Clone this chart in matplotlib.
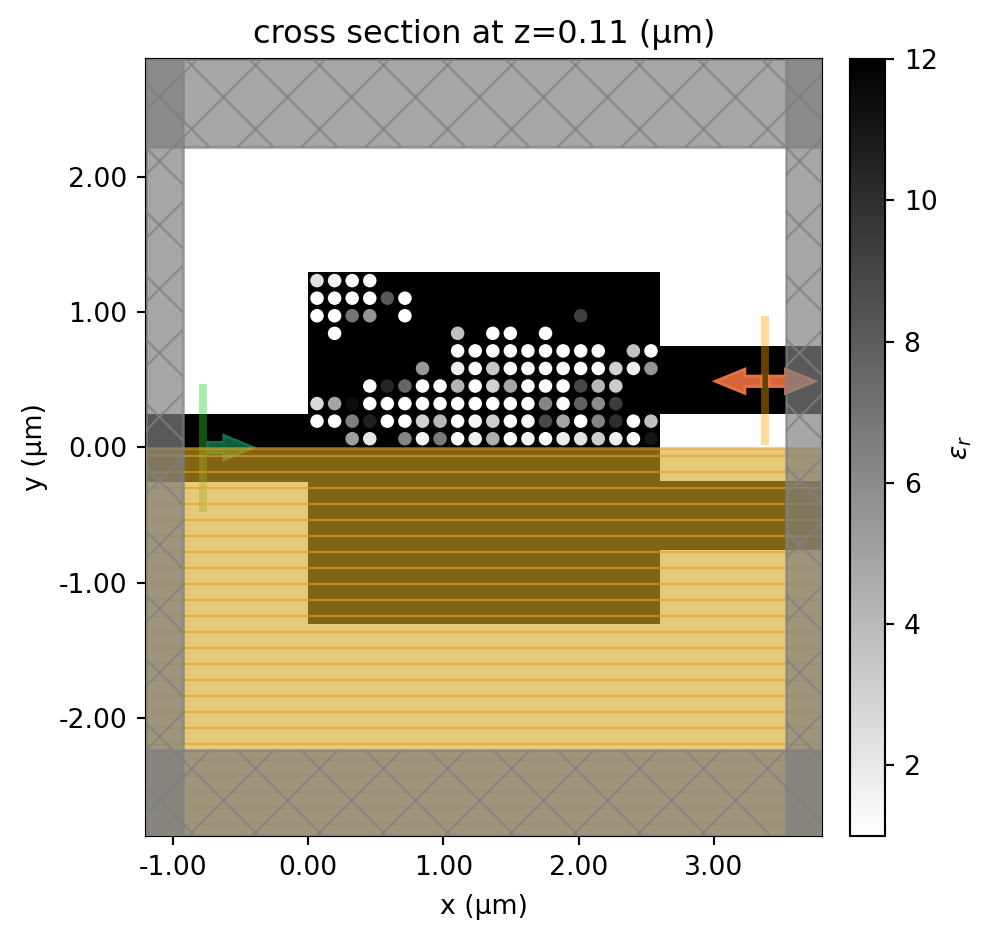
import numpy as np
import matplotlib
matplotlib.use("Agg")
import matplotlib.pyplot as plt
from matplotlib.patches import Rectangle, Circle, FancyArrow
from matplotlib.cm import ScalarMappable
from matplotlib.colors import Normalize
from matplotlib.ticker import FuncFormatter

W, H = 993, 940
DPI = 192

# region limits (um)
xlim = (-1.2, 3.8)
ylim = (-2.875, 2.875)

# waveguide + design region, (x0, y0, width, height)
core_rects = [(-1.2, 0.0, 1.2, 0.25), (0.0, 0.0, 2.6, 1.3), (2.6, 0.25, 1.2, 0.5)]
mirror_rects = [(-1.2, -0.255, 1.2, 0.255), (0.0, -1.305, 2.6, 1.305), (2.6, -0.76, 1.2, 0.51)]

# pixel grid of the design region
hole_x = 0.065 + 0.13 * np.arange(20)
hole_y = 0.065 + 0.13 * np.arange(10)
hole_r = 0.05

# permittivity of each hole, row 0 is the bottom one
hole_eps = np.array([
    [12, 12, 5.2, 2.1, 12, 6.3, 1.5, 6.7, 1, 1.7, 4.5, 1, 1.5, 1, 1.8, 2.3, 3.2, 1.8, 1, 11.1],
    [1, 1, 6.5, 10.6, 1, 1, 3.0, 4.1, 1, 1.4, 3.2, 1, 1.3, 8.9, 4.9, 1, 6.3, 10.0, 1, 3.7],
    [2.6, 4.9, 11.4, 1, 1, 1, 1, 1, 1, 1, 1, 1, 1, 6.2, 1.2, 7.8, 6.0, 9.4, 12, 12],
    [12, 12, 12, 1, 10.4, 7.6, 1, 1, 4.3, 1, 3.0, 4.9, 1, 1, 1, 8.9, 4.1, 3.2, 12, 12],
    [12, 12, 12, 12, 12, 12, 5.4, 12, 1.7, 1, 3.4, 1, 1, 1, 1, 1, 1, 3.0, 1.7, 5.6],
    [12, 12, 12, 12, 12, 12, 12, 12, 1, 1, 1, 1, 1, 1, 1, 1, 1, 12, 3.7, 1],
    [12, 1, 12, 12, 12, 12, 12, 12, 3.7, 12, 1, 1, 12, 1, 12, 12, 12, 12, 12, 12],
    [1, 1, 7.0, 5.6, 12, 1, 12, 12, 12, 12, 12, 12, 12, 12, 12, 9.2, 12, 12, 12, 12],
    [1, 1, 1, 1, 8.2, 1, 12, 12, 12, 12, 12, 12, 12, 12, 12, 12, 12, 12, 12, 12],
    [2.3, 1.6, 1, 1.3, 12, 12, 12, 12, 12, 12, 12, 12, 12, 12, 12, 12, 12, 12, 12, 12],
])

# absorbing layers, (x0, y0, width, height)
pml_rects = [(-1.2, -2.875, 0.272, 5.75), (3.535, -2.875, 0.265, 5.75),
             (-1.2, 2.225, 5.0, 0.65), (-1.2, -2.875, 5.0, 0.635)]

source_x = -0.775
source_y = (-0.475, 0.47)
monitor_x = 3.38
monitor_y = (0.015, 0.97)

cmap = plt.get_cmap("gist_yarg")
norm = Normalize(vmin=1, vmax=12)

fig = plt.figure(figsize=(W / DPI, H / DPI), dpi=DPI)
ax = fig.add_axes([146 / W, 1 - 836 / H, 676 / W, 777 / H])
cax = fig.add_axes([850 / W, 1 - 836 / H, 35 / W, 777 / H])

for x0, y0, w, h in core_rects + mirror_rects:
    ax.add_patch(Rectangle((x0, y0), w, h, fc="k", ec="none", zorder=1))

for j, y in enumerate(hole_y):
    for i, x in enumerate(hole_x):
        ax.add_patch(Circle((x, y), hole_r, fc=cmap(norm(hole_eps[j, i])), ec="none", zorder=2))

# source and monitor planes
ax.plot([source_x, source_x], source_y, color="limegreen", lw=3, alpha=0.4,
        solid_capstyle="butt", zorder=3)
ax.plot([monitor_x, monitor_x], monitor_y, color="orange", lw=3, alpha=0.4,
        solid_capstyle="butt", zorder=3)

# direction arrows
arrow_kw = dict(width=0.078, head_width=0.18, head_length=0.22, length_includes_head=True,
                lw=1.0, zorder=4)
ax.add_patch(FancyArrow(source_x + 0.03, 0.0, 0.34, 0.0, fc="#0a5f3c", ec="#14704b", **arrow_kw))
ax.add_patch(FancyArrow(monitor_x - 0.03, 0.49, -0.34, 0.0, fc="#d6653c", ec="#ea7340", **arrow_kw))
ax.add_patch(FancyArrow(monitor_x + 0.03, 0.49, 0.34, 0.0, fc="#d6653c", ec="#ea7340", **arrow_kw))

# symmetry region, drawn over the source
ax.add_patch(Rectangle((xlim[0], ylim[0]), xlim[1] - xlim[0], -ylim[0], fc="goldenrod",
                       ec="goldenrod", lw=1.0, alpha=0.6, zorder=5))
for yy in -0.0666 - 0.1183 * np.arange(24):
    ax.axhline(yy, color="goldenrod", lw=0.85, alpha=0.6, zorder=5)

# absorbing layers with a wide cross hatch
hatch_step = 0.4734
for x0, y0, w, h in pml_rects:
    rect = Rectangle((x0, y0), w, h, fc="grey", ec="grey", lw=1.0, alpha=0.7, zorder=6)
    ax.add_patch(rect)
    for k in range(-20, 21):
        c = -0.863 + k * hatch_step
        for s in (1, -1):
            xs = np.array(xlim)
            ys = s * (xs - c) + 2.83
            ln, = ax.plot(xs, ys, color="grey", lw=0.9, alpha=0.7, zorder=6)
            ln.set_clip_path(rect)

ax.set_xlim(xlim)
ax.set_ylim(ylim)
ax.set_xticks([-1, 0, 1, 2, 3])
ax.set_yticks([-2, -1, 0, 1, 2])
fmt = FuncFormatter(lambda v, p: f"{v:.2f}")
ax.xaxis.set_major_formatter(fmt)
ax.yaxis.set_major_formatter(fmt)
ax.set_xlabel("x (μm)", labelpad=5)
ax.set_ylabel("y (μm)")
ax.set_title("cross section at z=0.11 (μm)")

cb = fig.colorbar(ScalarMappable(norm=norm, cmap=cmap), cax=cax)
cb.set_ticks([2, 4, 6, 8, 10, 12])
cb.set_label(r"$\epsilon_r$")

fig.savefig("out.png", dpi=DPI)
